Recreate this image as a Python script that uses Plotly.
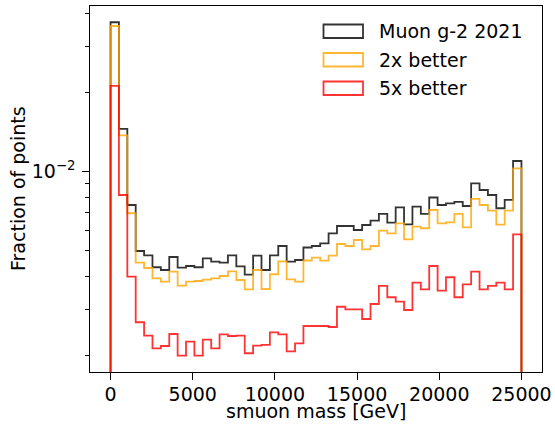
import numpy as np
import plotly.graph_objects as go

# ---- data: fraction of points per smuon-mass bin (49 equal bins, 0 .. 25000 GeV)
mass_min, mass_max, n_bins = 0, 25000, 49

muon_g2_2021 = [0.0370, 0.01454, 0.00747, 0.004994, 0.004810, 0.004331, 0.004229, 0.004739,
                0.004315, 0.004380, 0.004331, 0.004685, 0.004548, 0.004508, 0.004810, 0.004369,
                0.004060, 0.004794, 0.004229, 0.004810, 0.005218, 0.004548, 0.004616, 0.005150,
                0.005218, 0.005343, 0.005832, 0.006217, 0.006217, 0.006003, 0.006272, 0.006513,
                0.006907, 0.006400, 0.007323, 0.006310, 0.007362, 0.006907, 0.007978, 0.007470,
                0.007584, 0.007672, 0.007407, 0.009035, 0.008519, 0.008155, 0.007260, 0.007807,
                0.01098]
better_2x = [0.03581, 0.01375, 0.006949, 0.004508, 0.004303, 0.003933, 0.003817, 0.004167,
             0.003686, 0.003817, 0.003841, 0.003886, 0.003933, 0.004013, 0.004181, 0.003875,
             0.003572, 0.004229, 0.003581, 0.004074, 0.004563, 0.003899, 0.003817, 0.004596,
             0.004710, 0.004587, 0.004794, 0.005310, 0.005218, 0.005499, 0.005069, 0.005218,
             0.005967, 0.005832, 0.006366, 0.005534, 0.006180, 0.006094, 0.007152, 0.006366,
             0.006422, 0.006907, 0.006147, 0.007876, 0.007470, 0.007108, 0.006288, 0.007108,
             0.01030]
better_5x = [0.02118, 0.008155, 0.003989, 0.002676, 0.002379, 0.002131, 0.002174, 0.002415,
             0.001998, 0.002257, 0.001998, 0.002297, 0.002131, 0.002409, 0.002373, 0.002379,
             0.002040, 0.002180, 0.002194, 0.002451, 0.002409, 0.002075, 0.002226, 0.002590,
             0.002590, 0.002590, 0.002567, 0.003066, 0.002997, 0.002997, 0.002754, 0.003140,
             0.003677, 0.003331, 0.003204, 0.002979, 0.003784, 0.003572, 0.004380, 0.003528,
             0.003968, 0.003331, 0.003731, 0.004167, 0.003572, 0.003677, 0.003784, 0.003572,
             0.005781]

series_names = ["Muon g-2 2021", "2x better", "5x better"]
series_colors = ["rgba(0,0,0,0.8)", "rgba(255,165,0,0.8)", "rgba(255,0,0,0.8)"]
x_ticks = [0, 5000, 10000, 15000, 20000, 25000]
y_major = [1e-2]
y_major_text = ["10<sup>\u22122</sup>"]
y_minor = [2e-3, 3e-3, 4e-3, 5e-3, 6e-3, 7e-3, 8e-3, 9e-3, 2e-2, 3e-2, 4e-2]
x_title = "smuon mass [GeV]"
y_title = "Fraction of points"

edges = np.linspace(mass_min, mass_max, n_bins + 1)
floor = 1e-5

FONT = "DejaVu Sans"
W, H = 555, 425
L, R, T, B = 90, 542, 6, 372

def px_x(p):
    return (p - L) / (R - L)

def px_y(p):
    return (B - p) / (B - T)

fig = go.Figure()
for name, vals, col in zip(series_names, [muon_g2_2021, better_2x, better_5x], series_colors):
    xs = np.concatenate([[edges[0]], edges])
    ys = np.concatenate([[floor], np.asarray(vals), [floor]])
    fig.add_trace(go.Scatter(x=xs, y=ys, mode="lines", line=dict(color=col, width=1.8, shape="hv"),
                             name=name, showlegend=False, hoverinfo="skip"))

# manual matplotlib-style legend (open boxes)
box_tops = [24.5, 53, 81.5]
for top, name, col in zip(box_tops, series_names, series_colors):
    fig.add_shape(type="rect", xref="paper", yref="paper",
                  x0=px_x(323.5), x1=px_x(363), y0=px_y(top), y1=px_y(top + 13.5),
                  line=dict(color=col, width=1.8), fillcolor="rgba(0,0,0,0)")
    fig.add_annotation(xref="paper", yref="paper", x=px_x(377), y=px_y(top + 6.8),
                       xanchor="left", yanchor="middle", text=name, showarrow=False,
                       font=dict(family=FONT, size=19, color="black"))

# axis titles
fig.add_annotation(xref="paper", yref="paper", x=px_x((L + R) / 2), y=px_y(411),
                   xanchor="center", yanchor="middle", text=x_title, showarrow=False,
                   font=dict(family=FONT, size=19, color="black"))
fig.add_annotation(xref="paper", yref="paper", x=px_x(18), y=px_y((T + B) / 2),
                   xanchor="center", yanchor="middle", text=y_title, showarrow=False,
                   textangle=-90, font=dict(family=FONT, size=19, color="black"))

axis_common = dict(showline=True, linecolor="black", linewidth=1.4, mirror=True,
                   ticks="outside", ticklen=6.5, tickwidth=1.4, tickcolor="black",
                   showgrid=False, zeroline=False, automargin=False,
                   tickfont=dict(family=FONT, size=19, color="black"))

fig.update_layout(
    width=W, height=H,
    margin=dict(l=L, r=W - R, t=T, b=H - B, autoexpand=False),
    paper_bgcolor="white", plot_bgcolor="white",
    font=dict(family=FONT, size=19, color="black"),
    xaxis=dict(range=[-1250, 26250], tickmode="array", tickvals=x_ticks,
               ticktext=[str(v) for v in x_ticks], ticklabelstandoff=-2,
               **axis_common),
    yaxis=dict(type="log", range=[-2.7616, -1.370], tickmode="array", tickvals=y_major,
               ticktext=y_major_text, ticklabelstandoff=3,
               minor=dict(tickmode="array", tickvals=y_minor, ticks="outside", ticklen=3.8,
                          tickwidth=1.1, tickcolor="black", showgrid=False),
               **axis_common),
)

fig.write_html("out.html")
